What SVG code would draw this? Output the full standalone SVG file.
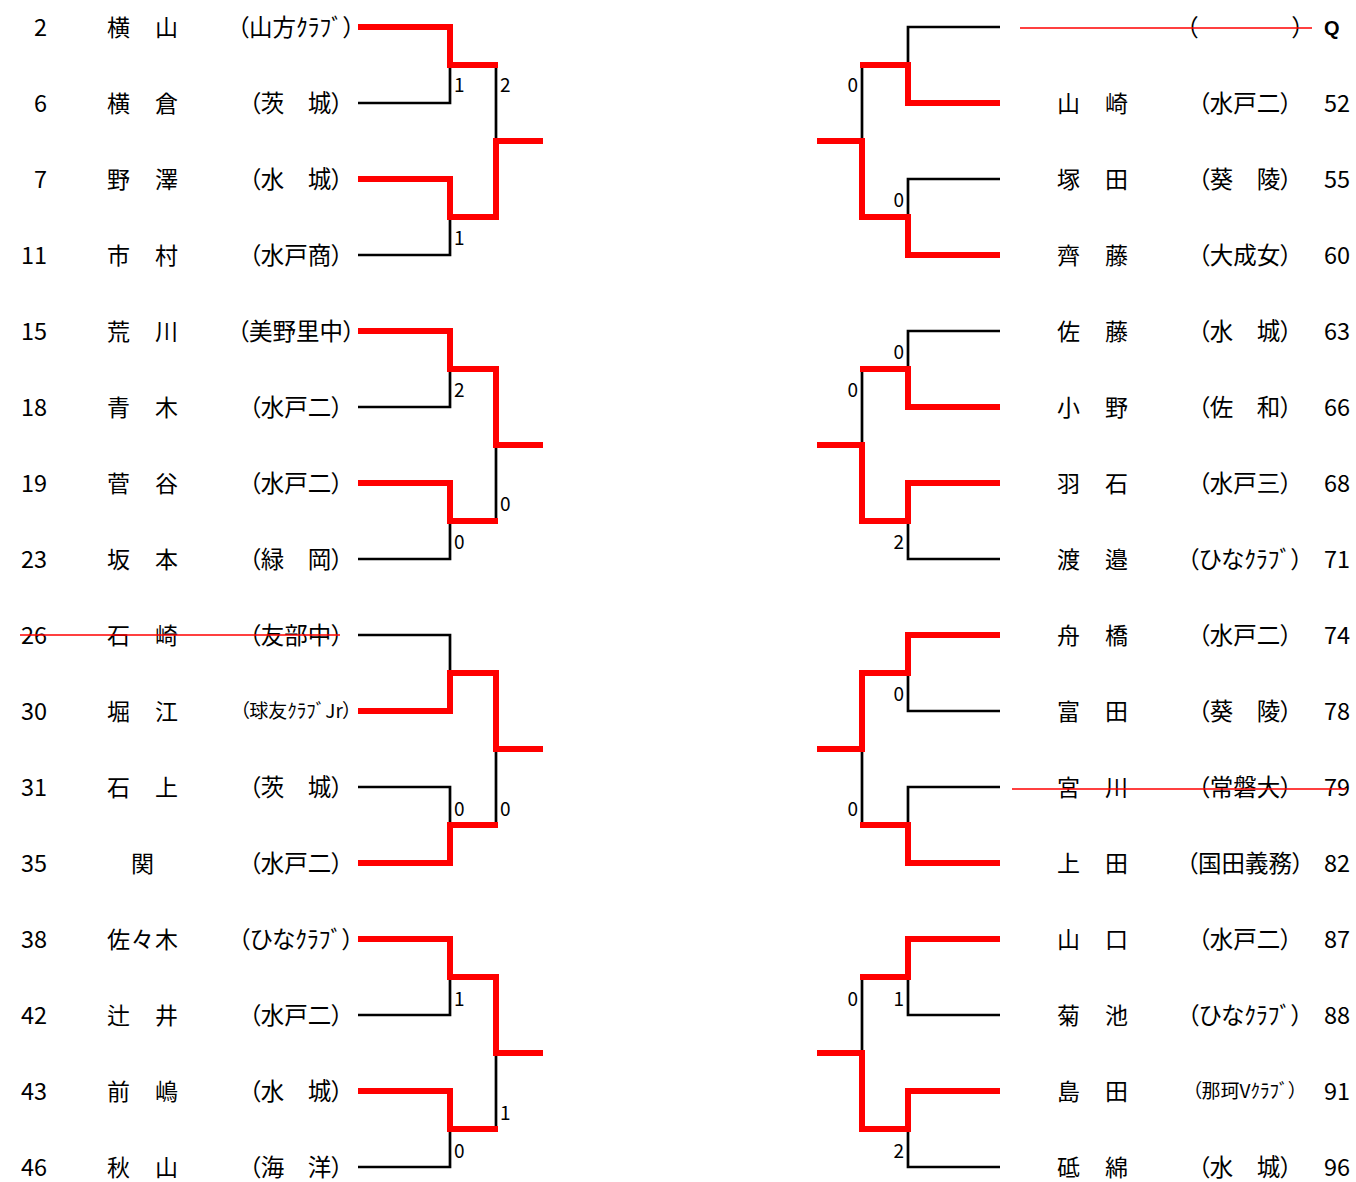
<svg xmlns="http://www.w3.org/2000/svg" width="1356" height="1182" viewBox="0 0 1356 1182">
<style>
text{font-family:"Noto Sans CJK JP","Noto Sans CJK SC",sans-serif;fill:#000}
.seed{font-size:23.5px}
.lseed{text-anchor:end}
.name{font-size:23px;letter-spacing:1px}
.club{font-size:23.5px;text-anchor:middle;font-feature-settings:"palt"}
.clubs{font-size:19px;text-anchor:middle;font-feature-settings:"palt"}
.score{font-size:19px}
.rs{text-anchor:end}
.blk{fill:none;stroke:#000;stroke-width:2.7;stroke-linejoin:miter}
.win{fill:none;stroke:#ff0000;stroke-width:6;stroke-linejoin:miter}
.strike{stroke:#ff0000;stroke-width:1.5}
.q{font-family:"Liberation Sans",Arial,sans-serif;font-weight:bold;font-size:20px}
</style>
<rect width="1356" height="1182" fill="#fff"/>

<g id="connectors">
  <!-- left black -->
  <path class="blk" d="M358,27H450V103H358 M358,179H450V255H358 M496,65V217
    M358,331H450V407H358 M358,483H450V559H358 M496,369V521
    M358,635H450V711H358 M358,787H450V863H358 M496,673V825
    M358,939H450V1015H358 M358,1091H450V1167H358 M496,977V1129"/>
  <!-- right black -->
  <path class="blk" d="M1000,27H908V103H1000 M1000,179H908V255H1000 M862,65V217
    M1000,331H908V407H1000 M1000,483H908V559H1000 M862,369V521
    M1000,635H908V711H1000 M1000,787H908V863H1000 M862,673V825
    M1000,939H908V1015H1000 M1000,1091H908V1167H1000 M862,977V1129"/>
  <!-- left winners -->
  <path class="win" d="M358,27H450V65H498"/>
  <path class="win" d="M358,179H450V217H496V141H543"/>
  <path class="win" d="M358,331H450V369H496V445H543"/>
  <path class="win" d="M358,483H450V521H498"/>
  <path class="win" d="M358,711H450V673H496V749H543"/>
  <path class="win" d="M358,863H450V825H498"/>
  <path class="win" d="M358,939H450V977H496V1053H543"/>
  <path class="win" d="M358,1091H450V1129H498"/>
  <!-- right winners -->
  <path class="win" d="M1000,103H908V65H860"/>
  <path class="win" d="M1000,255H908V217H862V141H817"/>
  <path class="win" d="M1000,407H908V369H860"/>
  <path class="win" d="M1000,483H908V521H862V445H817"/>
  <path class="win" d="M1000,635H908V673H862V749H817"/>
  <path class="win" d="M1000,863H908V825H860"/>
  <path class="win" d="M1000,939H908V977H860"/>
  <path class="win" d="M1000,1091H908V1129H862V1053H817"/>
  <!-- scores left -->
  <text class="score" x="454" y="92">1</text>
  <text class="score" x="500" y="92">2</text>
  <text class="score" x="454" y="245">1</text>
  <text class="score" x="454" y="397">2</text>
  <text class="score" x="500" y="511">0</text>
  <text class="score" x="454" y="549">0</text>
  <text class="score" x="454" y="816">0</text>
  <text class="score" x="500" y="816">0</text>
  <text class="score" x="454" y="1006">1</text>
  <text class="score" x="500" y="1120">1</text>
  <text class="score" x="454" y="1158">0</text>
  <!-- scores right -->
  <text class="score rs" x="858" y="92">0</text>
  <text class="score rs" x="904" y="207">0</text>
  <text class="score rs" x="904" y="359">0</text>
  <text class="score rs" x="858" y="397">0</text>
  <text class="score rs" x="904" y="549">2</text>
  <text class="score rs" x="904" y="701">0</text>
  <text class="score rs" x="858" y="816">0</text>
  <text class="score rs" x="858" y="1006">0</text>
  <text class="score rs" x="904" y="1006">1</text>
  <text class="score rs" x="904" y="1158">2</text>
</g>

<!-- left entries -->
<g id="p2"><text class="seed lseed" x="47" y="36">2</text><text class="name" x="107" y="36">横　山</text><text class="club" x="296" y="36">（山方ｸﾗﾌﾞ）</text></g>
<g id="p6"><text class="seed lseed" x="47" y="112">6</text><text class="name" x="107" y="112">横　倉</text><text class="club" x="296" y="112">（茨　城）</text></g>
<g id="p7"><text class="seed lseed" x="47" y="188">7</text><text class="name" x="107" y="188">野　澤</text><text class="club" x="296" y="188">（水　城）</text></g>
<g id="p11"><text class="seed lseed" x="47" y="264">11</text><text class="name" x="107" y="264">市　村</text><text class="club" x="296" y="264">（水戸商）</text></g>
<g id="p15"><text class="seed lseed" x="47" y="340">15</text><text class="name" x="107" y="340">荒　川</text><text class="club" x="296" y="340">（美野里中）</text></g>
<g id="p18"><text class="seed lseed" x="47" y="416">18</text><text class="name" x="107" y="416">青　木</text><text class="club" x="296" y="416">（水戸二）</text></g>
<g id="p19"><text class="seed lseed" x="47" y="492">19</text><text class="name" x="107" y="492">菅　谷</text><text class="club" x="296" y="492">（水戸二）</text></g>
<g id="p23"><text class="seed lseed" x="47" y="568">23</text><text class="name" x="107" y="568">坂　本</text><text class="club" x="296" y="568">（緑　岡）</text></g>
<g id="p26"><text class="seed lseed" x="47" y="644">26</text><text class="name" x="107" y="644">石　崎</text><text class="club" x="296" y="644">（友部中）</text><line class="strike" x1="20" y1="635" x2="340" y2="635"/></g>
<g id="p30"><text class="seed lseed" x="47" y="720">30</text><text class="name" x="107" y="720">堀　江</text><text class="clubs" x="296" y="718">（球友ｸﾗﾌﾞJr）</text></g>
<g id="p31"><text class="seed lseed" x="47" y="796">31</text><text class="name" x="107" y="796">石　上</text><text class="club" x="296" y="796">（茨　城）</text></g>
<g id="p35"><text class="seed lseed" x="47" y="872">35</text><text class="name" x="131" y="872">関</text><text class="club" x="296" y="872">（水戸二）</text></g>
<g id="p38"><text class="seed lseed" x="47" y="948">38</text><text class="name" x="107" y="948">佐々木</text><text class="club" x="296" y="948">（ひなｸﾗﾌﾞ）</text></g>
<g id="p42"><text class="seed lseed" x="47" y="1024">42</text><text class="name" x="107" y="1024">辻　井</text><text class="club" x="296" y="1024">（水戸二）</text></g>
<g id="p43"><text class="seed lseed" x="47" y="1100">43</text><text class="name" x="107" y="1100">前　嶋</text><text class="club" x="296" y="1100">（水　城）</text></g>
<g id="p46"><text class="seed lseed" x="47" y="1176">46</text><text class="name" x="107" y="1176">秋　山</text><text class="club" x="296" y="1176">（海　洋）</text></g>

<!-- right entries -->
<g id="pQ"><text class="club" x="1245" y="36">（　　　　）</text><text class="q" x="1324" y="35">Q</text><line class="strike" x1="1020" y1="28" x2="1312" y2="28"/></g>
<g id="p52"><text class="name" x="1057" y="112">山　崎</text><text class="club" x="1245" y="112">（水戸二）</text><text class="seed" x="1324" y="112">52</text></g>
<g id="p55"><text class="name" x="1057" y="188">塚　田</text><text class="club" x="1245" y="188">（葵　陵）</text><text class="seed" x="1324" y="188">55</text></g>
<g id="p60"><text class="name" x="1057" y="264">齊　藤</text><text class="club" x="1245" y="264">（大成女）</text><text class="seed" x="1324" y="264">60</text></g>
<g id="p63"><text class="name" x="1057" y="340">佐　藤</text><text class="club" x="1245" y="340">（水　城）</text><text class="seed" x="1324" y="340">63</text></g>
<g id="p66"><text class="name" x="1057" y="416">小　野</text><text class="club" x="1245" y="416">（佐　和）</text><text class="seed" x="1324" y="416">66</text></g>
<g id="p68"><text class="name" x="1057" y="492">羽　石</text><text class="club" x="1245" y="492">（水戸三）</text><text class="seed" x="1324" y="492">68</text></g>
<g id="p71"><text class="name" x="1057" y="568">渡　邉</text><text class="club" x="1245" y="568">（ひなｸﾗﾌﾞ）</text><text class="seed" x="1324" y="568">71</text></g>
<g id="p74"><text class="name" x="1057" y="644">舟　橋</text><text class="club" x="1245" y="644">（水戸二）</text><text class="seed" x="1324" y="644">74</text></g>
<g id="p78"><text class="name" x="1057" y="720">富　田</text><text class="club" x="1245" y="720">（葵　陵）</text><text class="seed" x="1324" y="720">78</text></g>
<g id="p79"><text class="name" x="1057" y="796">宮　川</text><text class="club" x="1245" y="796">（常磐大）</text><text class="seed" x="1324" y="796">79</text><line class="strike" x1="1012" y1="789" x2="1346" y2="789"/></g>
<g id="p82"><text class="name" x="1057" y="872">上　田</text><text class="club" x="1245" y="872">（国田義務）</text><text class="seed" x="1324" y="872">82</text></g>
<g id="p87"><text class="name" x="1057" y="948">山　口</text><text class="club" x="1245" y="948">（水戸二）</text><text class="seed" x="1324" y="948">87</text></g>
<g id="p88"><text class="name" x="1057" y="1024">菊　池</text><text class="club" x="1245" y="1024">（ひなｸﾗﾌﾞ）</text><text class="seed" x="1324" y="1024">88</text></g>
<g id="p91"><text class="name" x="1057" y="1100">島　田</text><text class="clubs" x="1245" y="1098">（那珂Vｸﾗﾌﾞ）</text><text class="seed" x="1324" y="1100">91</text></g>
<g id="p96"><text class="name" x="1057" y="1176">砥　綿</text><text class="club" x="1245" y="1176">（水　城）</text><text class="seed" x="1324" y="1176">96</text></g>
</svg>
